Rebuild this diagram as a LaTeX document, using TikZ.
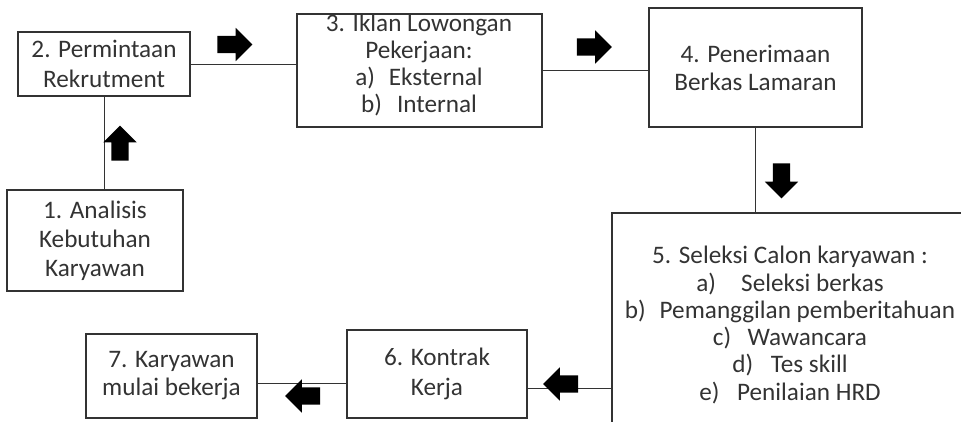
\documentclass[tikz,border=0pt]{standalone}
\usepackage{fontspec}
\setmainfont{Carlito}
\usetikzlibrary{shapes.arrows}
\definecolor{ink}{HTML}{333333}
\tikzset{
  box/.style={draw=ink, line width=1.4pt, rectangle, inner sep=0pt, align=center,
     text=ink, font=\fontsize{25.2}{29}\selectfont},
  txt/.style={inner sep=0pt, align=center, text=ink},
  conn/.style={draw=ink, line width=1pt},
  barrow/.style={single arrow, fill=black, draw=none, inner xsep=0pt, inner ysep=8.5pt,
     single arrow head extend=8pt, minimum height=35pt}
}
\begin{document}
\begin{tikzpicture}[x=1pt,y=-1pt]
\useasboundingbox (0,0) rectangle (961,421);
\clip (0,0) rectangle (961,421);
% boxes
\node[box, minimum width=172pt, minimum height=64pt, font=\fontsize{25.2}{30}\selectfont] (b2) at (104,64) {2. Permintaan\\Rekrutment};
\node[box, minimum width=176pt, minimum height=101pt] (b1) at (95,240.5) {1. Analisis\\Kebutuhan\\Karyawan};
\node[box, minimum width=245pt, minimum height=113pt] (b3) at (419.5,70.5) {};
\node[txt, font=\fontsize{25.2}{26.7}\selectfont] (t3) at (419,65) {3. Iklan Lowongan\\Pekerjaan:\\a)\hspace{0.55em}Eksternal\\b)\hspace{0.6em}Internal};
\node[box, minimum width=213pt, minimum height=119pt, font=\fontsize{25.2}{28}\selectfont] (b4) at (755.5,67.5) {4. Penerimaan\\Berkas Lamaran};
\node[box, minimum width=356pt, minimum height=224pt] (b5) at (790,325) {};
\node[txt, font=\fontsize{25.2}{27.3}\selectfont] (t5) at (790,325) {5. Seleksi Calon karyawan :\\a)\hspace{1em}Seleksi berkas\\b)\hspace{0.55em}Pemanggilan pemberitahuan\\c)\hspace{0.65em}Wawancara\\d)\hspace{0.7em}Tes skill\\e)\hspace{0.7em}Penilaian HRD};
\node[box, minimum width=180pt, minimum height=88pt, font=\fontsize{25.2}{30}\selectfont] (b6) at (437,374) {6. Kontrak\\Kerja};
\node[box, minimum width=171pt, minimum height=84pt, font=\fontsize{25.2}{28}\selectfont] (b7) at (171.5,376) {7. Karyawan\\mulai bekerja};
% connectors
\draw[conn] (b1.north -| b2.south) -- (b2.south);
\draw[conn] (b2.east) -- (b2.east -| b3.west);
\draw[conn] (b3.east) -- (b3.east -| b4.west);
\draw[conn] (b4.south) -- (b4.south |- b5.north);
\draw[conn] ([yshift=-14pt]b6.east) -- ([yshift=-14pt]b6.east -| b5.west);
\draw[conn] ([yshift=-7pt]b7.east) -- ([yshift=-7pt]b7.east -| b6.west);
% block arrows
\node[barrow, rotate=90] (a12) at (120,147.5) {};
\node[barrow] (a23) at (230.5,44.5) {};
\node[barrow] (a34) at (590,47) {};
\node[barrow, rotate=-90] (a45) at (781.5,176.5) {};
\node[barrow, rotate=180] (a56) at (565,384) {};
\node[barrow, rotate=180] (a67) at (307,396) {};
\end{tikzpicture}
\end{document}
